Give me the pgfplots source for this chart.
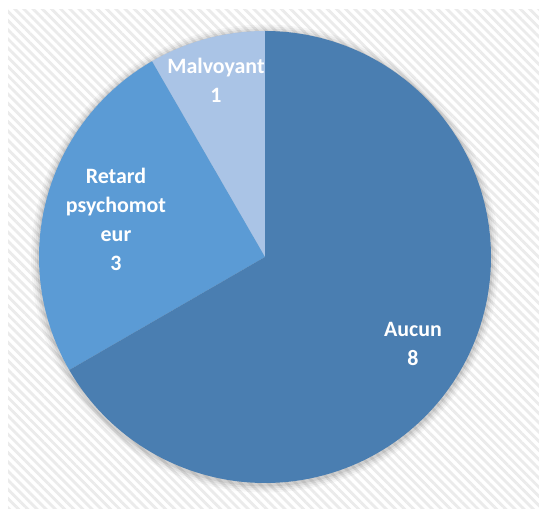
\documentclass[border=0pt]{standalone}
\usepackage{pgfplots}
\pgfplotsset{compat=1.18}
\usepackage{pgfplotstable}
\usepackage{fontspec}
\setmainfont{Carlito}
\usetikzlibrary{patterns.meta}
\definecolor{cAucun}{RGB}{74,126,177}
\definecolor{cRetard}{RGB}{91,155,213}
\definecolor{cMalv}{RGB}{170,196,230}
\pgfplotstableread{
label value
Aucun 8
Retard 3
Malvoyant 1
}\piedata
\pgfplotstablegetelem{0}{value}\of\piedata \let\vA\pgfplotsretval
\pgfplotstablegetelem{1}{value}\of\piedata \let\vR\pgfplotsretval
\pgfplotstablegetelem{2}{value}\of\piedata \let\vM\pgfplotsretval
\pgfmathsetmacro{\tot}{\vA+\vR+\vM}
\pgfmathsetmacro{\aM}{90+360*\vM/\tot}
\pgfmathsetmacro{\aR}{\aM+360*\vR/\tot}
\pgfmathsetmacro{\aA}{\aR+360*\vA/\tot}
\def\cx{265}\def\cy{252}\def\rr{226}
\begin{document}
\begin{tikzpicture}
\begin{axis}[x=1bp,y=1bp,xmin=0,xmax=539,ymin=0,ymax=509,hide axis,clip=false,
  scale only axis]
\addplot[fill=white,draw=none] coordinates {(0,0)(539,0)(539,509)(0,509)} -- cycle;
\addplot[fill=white,draw=none,postaction={pattern={Lines[angle=-45,distance=6.5bp,line width=2.8bp]},pattern color=black!8}] coordinates {(8,0)(539,0)(539,499)(8,499)} -- cycle;
% shadow
\foreach \k/\op in {8/0.03,6/0.04,4/0.05,2/0.07}{
\edef\tmp{\noexpand\addplot[draw=none,fill=black,fill opacity=\op,domain=0:360,samples=120] ({\cx+(\rr+\k)*cos(x)},{\cy-1.5+(\rr+\k)*sin(x)}) -- cycle;}\tmp
}
\addplot[fill=cMalv,draw=none,domain=90:\aM,samples=40] ({\cx+\rr*cos(x)},{\cy+\rr*sin(x)}) -- (axis cs:\cx,\cy) -- cycle;
\addplot[fill=cRetard,draw=none,domain=\aM:\aR,samples=80] ({\cx+\rr*cos(x)},{\cy+\rr*sin(x)}) -- (axis cs:\cx,\cy) -- cycle;
\addplot[fill=cAucun,draw=none,domain=\aR:\aA,samples=200] ({\cx+\rr*cos(x)},{\cy+\rr*sin(x)}) -- (axis cs:\cx,\cy) -- cycle;
\tikzset{lab/.style={font=\bfseries\fontsize{22}{29}\selectfont,text=white,align=center,inner sep=0pt}}
\node[lab] at (axis cs:216,{509-80}) {Malvoyant\\1};
\node[lab] at (axis cs:116,{509-219.5}) {Retard\\psychomot\\eur\\3};
\node[lab] at (axis cs:413,{509-344}) {Aucun\\8};
\end{axis}
\end{tikzpicture}
\end{document}
